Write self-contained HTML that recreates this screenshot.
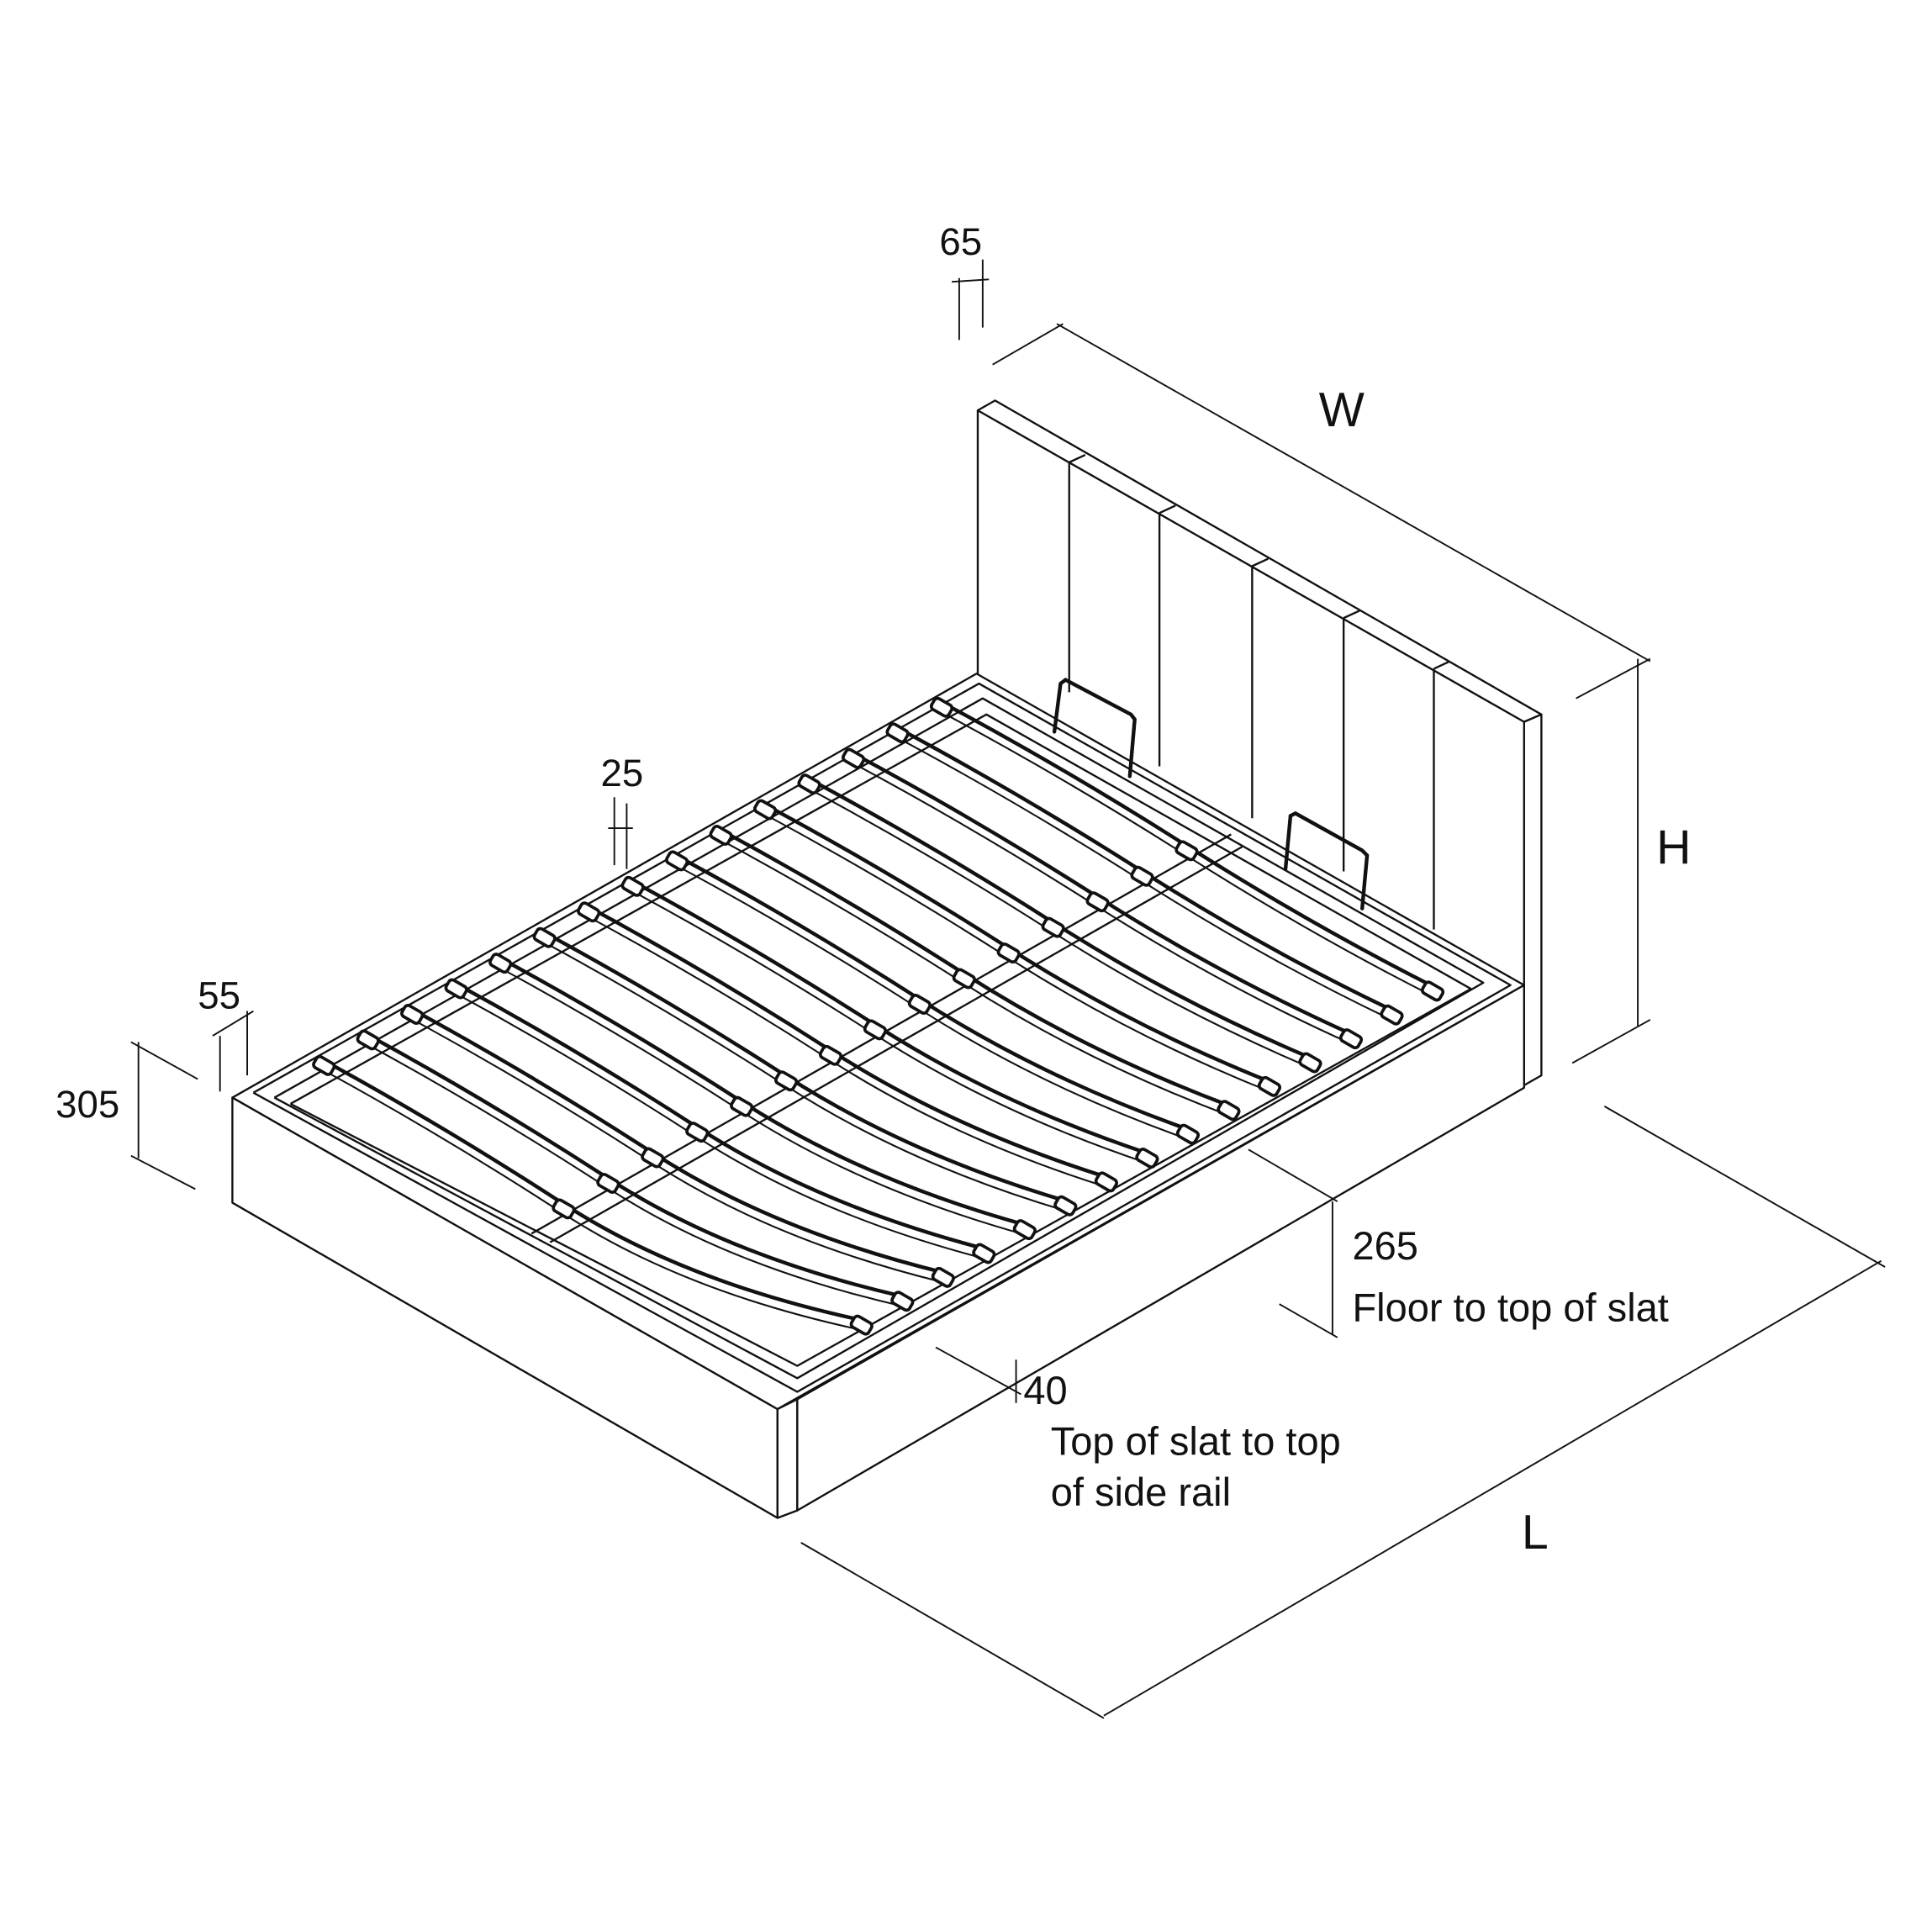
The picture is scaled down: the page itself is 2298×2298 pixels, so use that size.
<!DOCTYPE html>
<html><head><meta charset="utf-8"><style>
html,body{margin:0;padding:0;background:#fff;width:2298px;height:2298px;overflow:hidden}
svg{display:block}
text{font-family:"Liberation Sans",Arial,sans-serif;fill:#111}
</style></head><body>
<svg id="s" width="2298" height="2298" viewBox="0 0 1563 1563" xmlns="http://www.w3.org/2000/svg">
<g fill="none" stroke="#111" stroke-width="1.6" stroke-linejoin="round">
<polygon points="791,332 805,324 1247,578 1233,584" fill="#fff"/>
<line x1="791" y1="332" x2="791" y2="548"/>
<polygon points="1233,584 1247,578 1247,870 1233,878" fill="#fff"/>
<line x1="865" y1="374" x2="865" y2="560"/><line x1="865" y1="374" x2="878" y2="368"/>
<line x1="938" y1="415" x2="938" y2="620"/><line x1="938" y1="415" x2="951" y2="409"/>
<line x1="1013" y1="458" x2="1013" y2="662"/><line x1="1013" y1="458" x2="1026" y2="452"/>
<line x1="1087" y1="500" x2="1087" y2="705"/><line x1="1087" y1="500" x2="1100" y2="494"/>
<line x1="1160" y1="541" x2="1160" y2="752"/><line x1="1160" y1="541" x2="1173" y2="535"/>
<polygon points="188,888 790,545 1233,797 629,1140" fill="#fff"/>
<polygon points="188,888 629,1140 629,1228 188,973" fill="#fff"/>
<polygon points="629,1140 645,1132 645,1222 629,1228" fill="#fff"/>
<polygon points="645,1132 1233,797 1233,880 645,1222" fill="#fff"/>
<polyline points="205,884 792,553 1222,797 645,1126 205,884"/>
<polyline points="222,888 795,565 1200,795 645,1115 222,888"/>
<polyline points="235,893 798,578 1190,800 645,1105 235,893"/>
<line x1="430" y1="998" x2="996" y2="675"/>
<line x1="445" y1="1005" x2="1005" y2="685"/>
</g>
<g id="slats" fill="none" stroke="#111"></g>
<g fill="none" stroke="#111" stroke-width="3" stroke-linecap="round">
<path d="M853,592 L858,553 L862,550 L915,578 L918,582 L914,628"/>
<path d="M1040,703 L1044,660 L1048,658 L1102,688 L1106,692 L1102,735"/>
</g>
<g fill="none" stroke="#111" stroke-width="1.3">
<line x1="776" y1="225" x2="776" y2="275"/><line x1="795" y1="210" x2="795" y2="265"/><line x1="770" y1="228" x2="800" y2="226"/>
<line x1="803" y1="295" x2="860" y2="262"/><line x1="855" y1="262" x2="1335" y2="535"/><line x1="1275" y1="565" x2="1335" y2="533"/>
<line x1="1325" y1="533" x2="1325" y2="830"/><line x1="1272" y1="860" x2="1335" y2="825"/>
<line x1="648" y1="1248" x2="893" y2="1390"/><line x1="893" y1="1388" x2="1522" y2="1020"/><line x1="1298" y1="895" x2="1525" y2="1025"/>
<line x1="112" y1="843" x2="112" y2="937"/><line x1="106" y1="843" x2="160" y2="873"/><line x1="106" y1="935" x2="158" y2="962"/>
<line x1="178" y1="838" x2="178" y2="883"/><line x1="200" y1="818" x2="200" y2="870"/><line x1="172" y1="838" x2="205" y2="818"/>
<line x1="497" y1="645" x2="497" y2="700"/><line x1="507" y1="650" x2="507" y2="703"/><line x1="492" y1="670" x2="512" y2="670"/>
<line x1="1010" y1="930" x2="1082" y2="972"/><line x1="1078" y1="972" x2="1078" y2="1080"/><line x1="1035" y1="1055" x2="1082" y2="1082"/>
<line x1="757" y1="1090" x2="826" y2="1128"/><line x1="822" y1="1100" x2="822" y2="1135"/>
</g>
<text x="760" y="206" font-size="31">65</text>
<text x="1067" y="345" font-size="39">W</text>
<text x="1340" y="699" font-size="39">H</text>
<text x="1231" y="1253" font-size="39">L</text>
<text x="45" y="904" font-size="31">305</text>
<text x="160" y="816" font-size="31">55</text>
<text x="486" y="636" font-size="31">25</text>
<text x="1094" y="1019" font-size="32">265</text>
<text x="1094" y="1069" font-size="32">Floor to top of slat</text>
<text x="828" y="1136" font-size="32">40</text>
<text x="850" y="1177" font-size="32">Top of slat to top</text>
<text x="850" y="1218" font-size="32">of side rail</text>
</svg>
<script>
(function(){
var g=document.getElementById('slats'),h='';
for(var i=0;i<15;i++){
 var L=[262+35.7*i,862-20.7*i],R=[697+33*i,1072-19.3*i],M=[456+36*i,978-20.7*i];
 function p(dy,w){
  var c1=[(L[0]+M[0])/2,(L[1]+M[1])/2-5+dy];
  return '<path d="M'+L[0]+','+(L[1]+dy)+' Q'+c1[0]+','+c1[1]+' '+M[0]+','+(M[1]+dy)+' T'+R[0]+','+(R[1]+dy)+'" stroke-width="'+w+'"/>';
 }
 h+=p(-4,3)+p(4,1.4);
 [L,M,R].forEach(function(q){
  h+='<rect x="'+(q[0]-8)+'" y="'+(q[1]-5)+'" width="16" height="10" rx="3" fill="#fff" stroke-width="2.5" transform="rotate(30 '+q[0]+' '+q[1]+')"/>';
 });
}
g.innerHTML=h;
})();
</script>
</body></html>
